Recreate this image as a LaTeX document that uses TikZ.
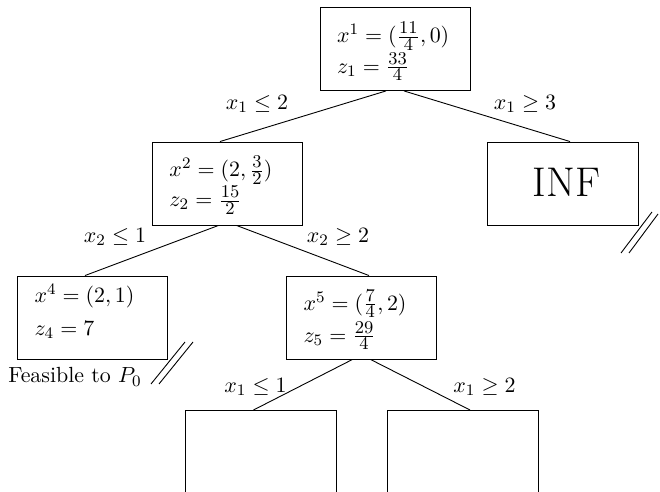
\documentclass[tikz,border=0pt]{standalone}
\usetikzlibrary{calc}
\newcommand\myfr[2]{\frac{\hbox{\fontsize{9}{10}\selectfont$#1$}}{\hbox{\fontsize{9}{10}\selectfont$#2$}}}
\newcommand\boxtext[4]{\parbox[c][41.5pt][t]{58pt}{\baselineskip=#2\lineskiplimit=-30pt\lineskip=0pt\rule{0pt}{#1}#3\\#4}}
\begin{document}
\begin{tikzpicture}[x=0.5pt,y=-0.5pt,
  every node/.style={font=\fontsize{10.95}{13.6}\selectfont},
  tbox/.style={draw, line width=0.45pt, minimum width=75pt, minimum height=41.5pt, inner sep=0pt},
  ebox/.style={draw, line width=0.45pt, minimum width=75.5pt, minimum height=60pt, inner sep=0pt},
  lab/.style={inner sep=0pt},
  conn/.style={line width=0.45pt},
  hatch/.style={line width=0.45pt}]
\clip (0,0) rectangle (660,492);
% boxes
\node[tbox] (n1) at (395,49) {\boxtext{17.5pt}{15.4pt}{$x^1=(\myfr{11}{4},0)$}{$z_1=\myfr{33}{4}$}};
\node[tbox] (n2) at (227.5,183.5) {\boxtext{17.3pt}{15pt}{$x^2=(2,\myfr{3}{2})$}{$z_2=\myfr{15}{2}$}};
\node[tbox, minimum width=75.5pt] (n3) at (562.5,183.5) {};
\node[inner sep=0pt, font=\huge] (t3) at ($(n3.center)+(4,-1)$) {INF};
\node[tbox] (n4) at (92.5,317.5) {\boxtext{13.4pt}{16.2pt}{$x^4=(2,1)$}{$z_4=7$}};
\node[tbox] (n5) at (361.5,317.5) {\boxtext{17.1pt}{16pt}{$x^5=(\myfr{7}{4},2)$}{$z_5=\myfr{29}{4}$}};
\node[ebox, anchor=north] (n6) at (261,410) {};
\node[ebox, anchor=north] (n7) at (462.5,410) {};
% connectors
\draw[conn] ($(n1.south)+(-9,0)$) -- ($(n2.north)+(-7.5,0)$);
\draw[conn] ($(n1.south)+(9,0)$) -- ($(n3.north)+(7.5,0)$);
\draw[conn] ($(n2.south)+(-9,0)$) -- ($(n4.north)+(-7.5,0)$);
\draw[conn] ($(n2.south)+(9,0)$) -- ($(n5.north)+(7.5,0)$);
\draw[conn] ($(n5.south)+(-9,0)$) -- ($(n6.north)+(-7.5,0)$);
\draw[conn] ($(n5.south)+(9,0)$) -- ($(n7.north)+(7.5,0)$);
% branch labels
\node[lab] (l1) at (257,104) {$x_1\leq 2$};
\node[lab] (l2) at (525,104) {$x_1\geq 3$};
\node[lab] (l3) at (115,237) {$x_2\leq 1$};
\node[lab] (l4) at (338,237) {$x_2\geq 2$};
\node[lab] (l5) at (255.5,387) {$x_1\leq 1$};
\node[lab] (l6) at (484.5,387) {$x_1\geq 2$};
\node[lab] (f4) at (75,377) {Feasible to $P_0$};
% hatches
\coordinate (h1a) at (621,253); \coordinate (h1b) at (652,212);
\coordinate (h2a) at (629,253); \coordinate (h2b) at (658,214);
\draw[hatch] (h1a) -- (h1b);
\draw[hatch] (h2a) -- (h2b);
\coordinate (h3a) at (151,384); \coordinate (h3b) at (185,342);
\coordinate (h4a) at (159,384); \coordinate (h4b) at (193,342);
\draw[hatch] (h3a) -- (h3b);
\draw[hatch] (h4a) -- (h4b);
\end{tikzpicture}
\end{document}
